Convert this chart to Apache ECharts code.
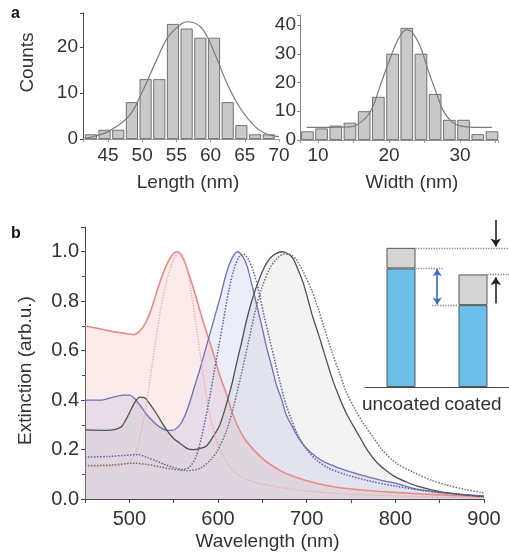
<!DOCTYPE html>
<html>
<head>
<meta charset="utf-8">
<script src="https://cdn.jsdelivr.net/npm/echarts@6/dist/echarts.min.js"></script>
<style>
  html, body { margin: 0; background: #fff; }
  #chart { width: 509px; height: 558px; }
</style>
</head>
<body>
<div id="chart"></div>
<script>
// panel a: length / width histograms (bin centre, count) and fitted curves
const lengthBins = [42.5, 44.5, 46.5, 48.5, 50.5, 52.5, 54.5, 56.5, 58.5, 60.5, 62.5, 64.5, 66.5, 68.5];
const lengthCounts = [1, 2, 2, 8, 13, 13, 25, 24, 22, 22, 8, 3, 1, 1];
const lengthFit = [[41.6, 0.15], [43, 0.6], [45, 1.6], [48, 4.85], [49.9, 9.9], [51.9, 16.5], [53.8, 22.2],
  [55.8, 25.1], [56.7, 25.5], [58.7, 24.1], [60.6, 18.6], [62.6, 11.4], [64.5, 6.3], [66.5, 2.7], [68, 1.2], [70, 0.5]];

const widthBins = [8.5, 10.5, 12.5, 14.5, 16.5, 18.5, 20.5, 22.5, 24.5, 26.5, 28.5, 30.5, 32.5, 34.5];
const widthCounts = [3, 4, 5, 6, 10, 15, 30, 39, 30, 16, 7, 7, 2, 3];
const widthFit = [[8.4, 4.4], [14.5, 4.6], [16.4, 7], [17.6, 11], [18.7, 18.5], [19.9, 26.7], [21.1, 34.2],
  [22, 37.7], [22.5, 38.3], [23.2, 37.7], [24.4, 32.5], [25.5, 24.3], [26.7, 16.2], [27.6, 10.4],
  [28.8, 6.4], [30, 4.9], [31.9, 4.4], [34.5, 4.4]];

// panel b: extinction spectra [wavelength nm, extinction]
const redSolid = [[450, 0.70], [465, 0.69], [480, 0.678], [495, 0.67], [505, 0.665], [512, 0.68], [518, 0.71],
  [525, 0.77], [532, 0.85], [540, 0.93], [547, 0.98], [554, 1.0], [561, 0.97], [568, 0.9], [575, 0.82],
  [583, 0.72], [593, 0.61], [602, 0.5], [610, 0.42], [617, 0.34], [628, 0.255], [640, 0.2], [655, 0.15],
  [673, 0.11], [692, 0.083], [710, 0.065], [730, 0.05], [760, 0.038], [800, 0.027], [850, 0.017], [900, 0.01]];
const redDotted = [[450, 0.13], [475, 0.133], [495, 0.14], [503, 0.16], [510, 0.22], [516, 0.32], [522, 0.45],
  [528, 0.6], [535, 0.76], [542, 0.88], [549, 0.96], [557, 1.0], [563, 0.96], [570, 0.83], [577, 0.66],
  [585, 0.46], [592, 0.32], [600, 0.22], [610, 0.15], [622, 0.1], [640, 0.07], [665, 0.05], [700, 0.033],
  [750, 0.02], [800, 0.013], [850, 0.008], [900, 0.005]];
const blueSolid = [[450, 0.40], [467, 0.40], [480, 0.41], [493, 0.42], [500, 0.42], [505, 0.41], [512, 0.38],
  [520, 0.34], [528, 0.31], [535, 0.29], [542, 0.278], [548, 0.278], [557, 0.30], [563, 0.34], [568, 0.39],
  [574, 0.46], [580, 0.53], [591, 0.67], [602, 0.81], [610, 0.92], [616, 0.975], [622, 1.0], [628, 0.98],
  [633, 0.94], [638, 0.87], [644, 0.78], [650, 0.69], [655, 0.61], [661, 0.53], [666, 0.46], [672, 0.40],
  [677, 0.34], [685, 0.285], [692, 0.24], [700, 0.205], [711, 0.17], [720, 0.15], [730, 0.135], [745, 0.115],
  [764, 0.095], [785, 0.075], [801, 0.064], [824, 0.04], [858, 0.025], [900, 0.012]];
const blueDotted = [[450, 0.17], [475, 0.172], [500, 0.178], [510, 0.18], [520, 0.168], [530, 0.155], [540, 0.14],
  [550, 0.128], [560, 0.12], [568, 0.13], [575, 0.17], [582, 0.26], [590, 0.4], [595, 0.5], [600, 0.6],
  [606, 0.72], [612, 0.84], [618, 0.93], [624, 0.98], [629, 0.99], [634, 0.97], [640, 0.92], [646, 0.84],
  [652, 0.74], [658, 0.65], [664, 0.56], [670, 0.47], [676, 0.39], [683, 0.32], [690, 0.26], [700, 0.2],
  [712, 0.155], [725, 0.125], [745, 0.098], [770, 0.074], [800, 0.052], [830, 0.035], [860, 0.022], [900, 0.012]];
const graySolid = [[450, 0.28], [475, 0.278], [490, 0.29], [496, 0.32], [501, 0.355], [506, 0.39], [512, 0.412],
  [517, 0.41], [522, 0.39], [531, 0.343], [542, 0.28], [550, 0.245], [557, 0.226], [565, 0.205], [572, 0.2],
  [580, 0.205], [587, 0.215], [594, 0.25], [602, 0.3], [610, 0.39], [616, 0.47], [621, 0.55], [627, 0.64],
  [632, 0.72], [638, 0.80], [644, 0.865], [650, 0.92], [655, 0.955], [662, 0.985], [672, 1.0], [680, 0.99],
  [685, 0.97], [690, 0.93], [696, 0.875], [702, 0.80], [707, 0.735], [713, 0.67], [719, 0.60], [725, 0.53],
  [730, 0.475], [737, 0.41], [745, 0.345], [752, 0.30], [760, 0.25], [770, 0.19], [780, 0.145], [790, 0.115],
  [800, 0.09], [812, 0.07], [825, 0.052], [850, 0.03], [875, 0.018], [900, 0.01]];
const grayDotted = [[450, 0.135], [480, 0.138], [505, 0.145], [520, 0.14], [535, 0.13], [550, 0.12], [565, 0.115],
  [580, 0.125], [592, 0.16], [600, 0.2], [610, 0.28], [618, 0.38], [626, 0.5], [634, 0.63], [642, 0.76],
  [650, 0.86], [658, 0.93], [666, 0.97], [674, 0.99], [680, 0.99], [688, 0.97], [696, 0.92], [705, 0.85],
  [713, 0.77], [720, 0.69], [728, 0.6], [737, 0.51], [745, 0.43], [755, 0.36], [765, 0.3], [775, 0.25],
  [785, 0.2], [800, 0.148], [820, 0.109], [840, 0.077], [860, 0.055], [880, 0.038], [900, 0.025]];

// inset: extinction split into two parts
const insetLabels = ['uncoated', 'coated'];
const insetBlue = [0.852, 0.588];
const insetGray = [0.148, 0.221];

const FONT = 'Liberation Sans';
const TXT = '#333';
const AXIS = '#4a4a4a';

function multipleOf(v, step) {
  return Math.abs(v / step - Math.round(v / step)) < 1e-6;
}

const chart = echarts.init(document.getElementById('chart'), null, { renderer: 'canvas' });

const uTop = insetBlue[0] + insetGray[0];
const cTop = insetBlue[1] + insetGray[1];

function spectrum(data, color, type, width, area) {
  const s = {
    type: 'line', xAxisIndex: 2, yAxisIndex: 2, data: data,
    smooth: 0.3, showSymbol: false, silent: true,
    lineStyle: { color: color, width: width, type: type }
  };
  if (area) s.areaStyle = { color: area, opacity: 1 };
  return s;
}

chart.setOption({
  animation: false,
  textStyle: { fontFamily: FONT },
  graphic: [
    { type: 'text', left: 11, top: 6, style: { text: 'a', font: 'bold 16px ' + FONT, fill: '#111' } },
    { type: 'text', left: 11, top: 226, style: { text: 'b', font: 'bold 16px ' + FONT, fill: '#111' } }
  ],
  grid: [
    { left: 83, top: 13, width: 196, height: 126 },
    { left: 300, top: 15, width: 198, height: 125 },
    { left: 85, top: 227, width: 399, height: 281 },
    { left: 365, top: 220, width: 144, height: 167 }
  ],
  xAxis: [
    {
      type: 'value', gridIndex: 0, min: 41.35, max: 70, splitNumber: 6,
      name: 'Length (nm)', nameLocation: 'middle', nameGap: 34,
      nameTextStyle: { fontSize: 19, color: TXT, padding: [0, 0, 0, 14] },
      axisLine: { lineStyle: { color: '#999' } },
      axisTick: { length: 3, lineStyle: { color: '#999' } },
      splitLine: { show: false },
      axisLabel: { fontSize: 19, color: TXT, margin: 7, formatter: v => multipleOf(v, 5) ? v : '' }
    },
    {
      type: 'value', gridIndex: 1, min: 7.46, max: 35.35, splitNumber: 6,
      name: 'Width (nm)', nameLocation: 'middle', nameGap: 33,
      nameTextStyle: { fontSize: 19, color: TXT, padding: [0, 0, 0, 26] },
      axisLine: { lineStyle: { color: '#999' } },
      axisTick: { length: 3, lineStyle: { color: '#999' } },
      splitLine: { show: false },
      axisLabel: { fontSize: 19, color: TXT, margin: 6, formatter: v => multipleOf(v, 10) ? v : '' }
    },
    {
      type: 'value', gridIndex: 2, min: 450, max: 900, interval: 50,
      name: 'Wavelength (nm)', nameLocation: 'middle', nameGap: 33,
      nameTextStyle: { fontSize: 19, color: TXT, padding: [0, 34, 0, 0] },
      axisLine: { lineStyle: { color: AXIS } },
      axisTick: { length: 4, lineStyle: { color: AXIS } },
      splitLine: { show: false },
      axisLabel: { fontSize: 20, color: TXT, margin: 10, formatter: v => multipleOf(v, 100) ? v : '' }
    },
    {
      type: 'category', gridIndex: 3, data: insetLabels,
      axisLine: { lineStyle: { color: AXIS } },
      axisTick: { show: false },
      axisLabel: { fontSize: 19, color: TXT, margin: 8, interval: 0 }
    },
    { type: 'value', gridIndex: 3, min: 0, max: 6, show: false }
  ],
  yAxis: [
    {
      type: 'value', gridIndex: 0, min: 0, max: 27.4, interval: 10,
      name: 'Counts', nameLocation: 'middle', nameGap: 46,
      nameTextStyle: { fontSize: 19, color: TXT, padding: [0, 0, 0, 27] },
      axisLine: { show: true, lineStyle: { color: AXIS } },
      axisTick: { show: true, length: 3, lineStyle: { color: AXIS } },
      splitLine: { show: false },
      axisLabel: { fontSize: 19, color: TXT, margin: 5, formatter: v => multipleOf(v, 10) ? v : '' }
    },
    {
      type: 'value', gridIndex: 1, min: 0, max: 43.5, interval: 10,
      axisLine: { show: true, lineStyle: { color: '#888' } },
      axisTick: { show: true, length: 3, lineStyle: { color: '#888' } },
      splitLine: { show: false },
      axisLabel: { fontSize: 19, color: TXT, margin: 4, formatter: v => multipleOf(v, 10) ? v : '' }
    },
    {
      type: 'value', gridIndex: 2, min: 0, max: 1.1, interval: 0.2,
      name: 'Extinction (arb.u.)', nameLocation: 'middle', nameGap: 50,
      nameTextStyle: { fontSize: 19, color: TXT, padding: [0, 15, 0, 0] },
      axisLine: { show: true, lineStyle: { color: AXIS } },
      axisTick: { show: true, length: 4, lineStyle: { color: AXIS } },
      minorTick: { show: true, splitNumber: 2, length: 3, lineStyle: { color: AXIS } },
      splitLine: { show: false },
      axisLabel: { fontSize: 20, color: TXT, margin: 6, formatter: v => multipleOf(v, 0.2) ? v.toFixed(1) : '' }
    },
    { type: 'value', gridIndex: 3, min: 0, max: 1.2, show: false }
  ],
  series: [
    {
      type: 'bar', xAxisIndex: 0, yAxisIndex: 0, barWidth: 12, silent: true,
      data: lengthBins.map((b, i) => [b, lengthCounts[i]]),
      itemStyle: { color: '#c9c9c9', borderColor: '#555', borderWidth: 0.8 }
    },
    {
      type: 'line', xAxisIndex: 0, yAxisIndex: 0, data: lengthFit, smooth: 0.4,
      showSymbol: false, silent: true, lineStyle: { color: '#7a7a7a', width: 1.2 }
    },
    {
      type: 'bar', xAxisIndex: 1, yAxisIndex: 1, barWidth: 12.5, silent: true,
      data: widthBins.map((b, i) => [b, widthCounts[i]]),
      itemStyle: { color: '#c9c9c9', borderColor: '#555', borderWidth: 0.8 }
    },
    {
      type: 'line', xAxisIndex: 1, yAxisIndex: 1, data: widthFit, smooth: 0.4,
      showSymbol: false, silent: true, lineStyle: { color: '#7a7a7a', width: 1.2 }
    },
    spectrum(redSolid, '#e98b83', 'solid', 1.6, 'rgba(240,150,150,0.19)'),
    spectrum(blueSolid, '#6b70b8', 'solid', 1.3, 'rgba(130,140,215,0.16)'),
    spectrum(graySolid, '#505050', 'solid', 1.3, 'rgba(170,170,170,0.14)'),
    spectrum(redDotted, '#eaa8a8', 'dotted', 1.3),
    spectrum(blueDotted, '#5b5fa5', 'dotted', 1.5),
    spectrum(grayDotted, '#6e6e6e', 'dotted', 1.5),
    {
      type: 'bar', xAxisIndex: 3, yAxisIndex: 3, stack: 'inset', barWidth: 29, silent: true,
      data: insetBlue, itemStyle: { color: '#6cbfea', borderColor: '#555', borderWidth: 1 }
    },
    {
      type: 'bar', xAxisIndex: 3, yAxisIndex: 3, stack: 'inset', barWidth: 29, silent: true,
      data: insetGray, itemStyle: { color: '#d4d4d4', borderColor: '#555', borderWidth: 1 }
    },
    {
      type: 'line', xAxisIndex: 4, yAxisIndex: 3, data: [[0, 0]], showSymbol: false, silent: true,
      lineStyle: { opacity: 0 },
      markLine: {
        silent: true, animation: false, symbol: ['none', 'none'], label: { show: false },
        lineStyle: { color: '#888', type: 'dotted', width: 1.3 },
        data: [
          [{ coord: [2.1, uTop] }, { coord: [6, uTop] }],
          [{ coord: [2.1, insetBlue[0]] }, { coord: [3.25, insetBlue[0]] }],
          [{ coord: [2.8, insetBlue[1]] }, { coord: [3.87, insetBlue[1]] }],
          [{ coord: [5.1, cTop] }, { coord: [6, cTop] }]
        ]
      }
    },
    {
      type: 'line', xAxisIndex: 4, yAxisIndex: 3, data: [[0, 0]], showSymbol: false, silent: true,
      lineStyle: { opacity: 0 },
      markLine: {
        silent: true, animation: false, symbol: ['none', 'arrow'], symbolSize: 8, label: { show: false },
        lineStyle: { color: '#222', type: 'solid', width: 1.6 },
        data: [
          [{ coord: [5.45, 1.2] }, { coord: [5.45, uTop + 0.01] }],
          [{ coord: [5.45, insetBlue[1] + 0.012] }, { coord: [5.45, cTop - 0.02] }]
        ]
      }
    },
    {
      type: 'line', xAxisIndex: 4, yAxisIndex: 3, data: [[0, 0]], showSymbol: false, silent: true,
      lineStyle: { opacity: 0 },
      markLine: {
        silent: true, animation: false, symbol: ['arrow', 'arrow'], symbolSize: 7, label: { show: false },
        lineStyle: { color: '#3a6cc6', type: 'solid', width: 1.6 },
        data: [
          [{ coord: [3.01, insetBlue[0] - 0.005] }, { coord: [3.01, insetBlue[1] + 0.005] }]
        ]
      }
    }
  ]
});
</script>
</body>
</html>
